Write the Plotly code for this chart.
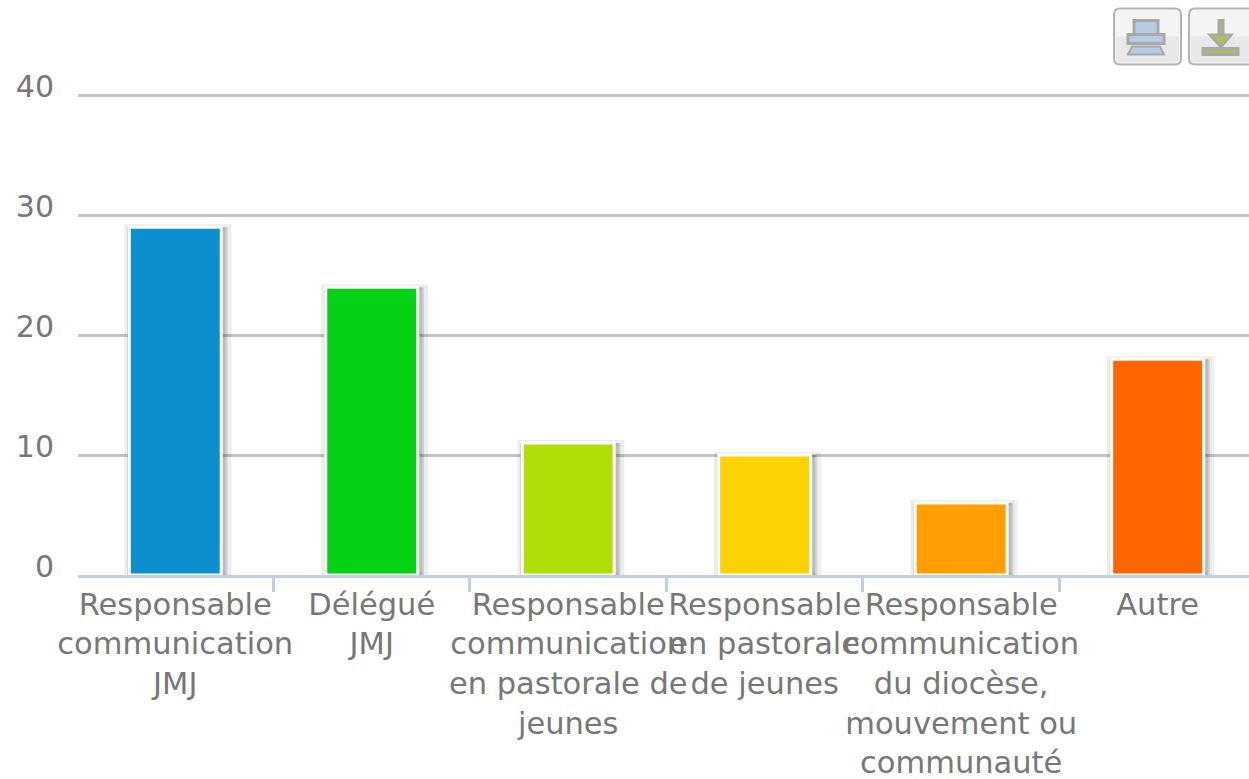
import plotly.graph_objects as go

categories = [
    "Responsable<br>communication<br>JMJ",
    "Délégué<br>JMJ",
    "Responsable<br>communication<br>en pastorale de<br>jeunes",
    "Responsable<br>en pastorale<br>de jeunes",
    "Responsable<br>communication<br>du diocèse,<br>mouvement ou<br>communauté",
    "Autre",
]
values = [29, 24, 11, 10, 6, 18]
colors = ["#0d8ecf", "#04d215", "#b0de09", "#fcd202", "#ff9e01", "#ff6600"]
y_ticks = [0, 10, 20, 30, 40]

PLOT_L, PLOT_R, PLOT_T, PLOT_B = 78, 1249, 92.6, 575
def px(x): return (x - PLOT_L) / (PLOT_R - PLOT_L)
def py(y): return (PLOT_B - y) / (PLOT_B - PLOT_T)

fig = go.Figure()
# soft bar shadow: a pale ring plus two darker stripes on the right
fig.add_bar(x=categories, y=values, width=0.514, offset=-0.243,
            marker=dict(color="rgba(0,0,0,0)", line=dict(color="rgba(0,0,0,0.07)", width=6)),
            hoverinfo="skip", showlegend=False)
for w, alpha in [(0.509, 0.12), (0.499, 0.16)]:
    fig.add_bar(x=categories, y=values, width=w, offset=-0.243,
                marker=dict(color=f"rgba(0,0,0,{alpha})", line_width=0),
                hoverinfo="skip", showlegend=False)
fig.add_bar(x=categories, y=values, width=0.468, offset=-0.234,
            marker=dict(color=colors, line=dict(color="#ffffff", width=3)), showlegend=False)

def rrect(x0, y0, x1, y1, fill, line, r=6):
    p = (f"M{px(x0+r)},{py(y0)} L{px(x1-r)},{py(y0)} Q{px(x1)},{py(y0)} {px(x1)},{py(y0+r)} "
         f"L{px(x1)},{py(y1-r)} Q{px(x1)},{py(y1)} {px(x1-r)},{py(y1)} L{px(x0+r)},{py(y1)} "
         f"Q{px(x0)},{py(y1)} {px(x0)},{py(y1-r)} L{px(x0)},{py(y0+r)} Q{px(x0)},{py(y0)} {px(x0+r)},{py(y0)} Z")
    return dict(type="path", xref="paper", yref="paper", path=p, fillcolor=fill,
                line=dict(color=line, width=2), layer="above")
def rect(x0, y0, x1, y1, fill, line="#a8a8a8", w=3):
    return dict(type="rect", xref="paper", yref="paper", x0=px(x0), x1=px(x1), y0=py(y0), y1=py(y1),
                fillcolor=fill, line=dict(color=line, width=w), layer="above")
def poly(pts, fill, line="#a8a8a8", w=2):
    p = "M" + " L".join(f"{px(a)},{py(b)}" for a, b in pts) + " Z"
    return dict(type="path", xref="paper", yref="paper", path=p, fillcolor=fill,
                line=dict(color=line, width=w), layer="above")

shapes = [
    rrect(1114, 8, 1181, 64, "#f4f4f4", "#b4b4b4"),
    rrect(1189, 8, 1262, 64, "#f4f4f4", "#b4b4b4"),
    rect(1116, 36, 1179, 62, "#e8e8e8", "#e8e8e8", 0),
    rect(1191, 36, 1249, 62, "#e8e8e8", "#e8e8e8", 0),
    rect(1134, 20, 1158, 34, "#b5cce3"),
    poly([(1132, 46), (1160, 46), (1164, 54), (1128, 54)], "#b5cce3"),
    rect(1128, 34, 1164, 43, "#b5cce3"),
    rect(1203, 48, 1238, 54, "#a6c25c"),
    poly([(1209, 34), (1232, 34), (1221, 47)], "#a6c25c"),
    rect(1219, 20, 1223, 34, "#a6c25c"),
]

fig.update_layout(
    width=1249, height=779, margin=dict(l=PLOT_L, r=0, t=PLOT_T, b=779 - PLOT_B, pad=0),
    autosize=False, paper_bgcolor="#ffffff", plot_bgcolor="#ffffff",
    barmode="overlay", showlegend=False, shapes=shapes,
    font=dict(family="DejaVu Sans", color="#777777", size=30),
    xaxis=dict(type="category", range=[-0.495, 5.465], tickson="boundaries", ticks="outside", ticklen=14,
               tickwidth=3, tickcolor="#c0d0e0", showline=True, linecolor="#c0d0e0", linewidth=3,
               showgrid=False, tickangle=0, tickfont=dict(size=30.5), automargin=False),
    yaxis=dict(range=[0, 40.2], tickvals=y_ticks, showgrid=True, gridcolor="#c4c4c4", gridwidth=3,
               zeroline=False, showline=False, ticks="", tickfont=dict(size=30), automargin=False,
               ticklabelstandoff=23, ticklabelshift=-9),
)
fig.write_html("out.html", config=dict(displayModeBar=False),
               post_script="document.body.style.margin='0';document.documentElement.style.overflow='hidden';")
